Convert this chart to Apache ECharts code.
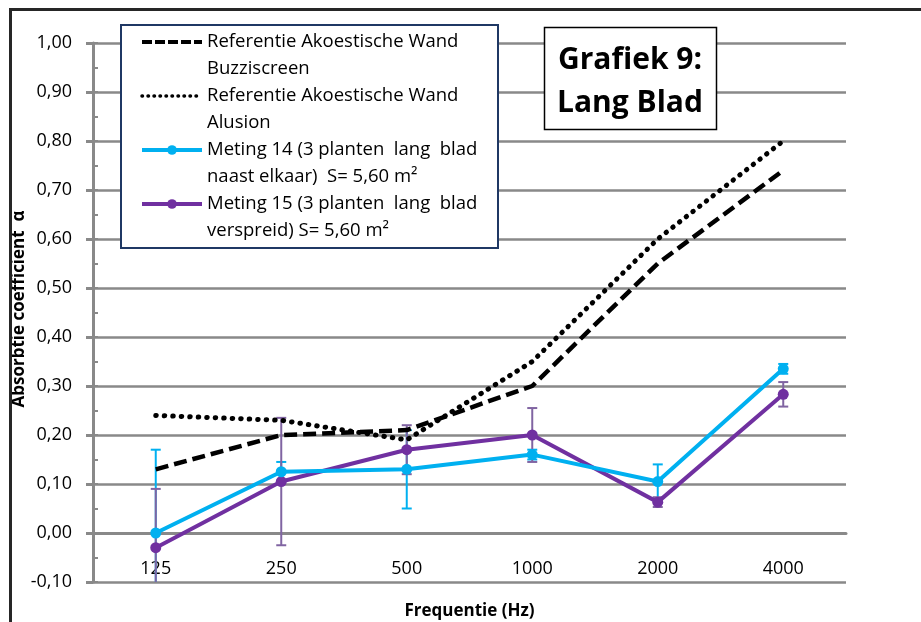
<!DOCTYPE html>
<html>
<head>
<meta charset="utf-8">
<script src="https://cdn.jsdelivr.net/npm/echarts@6/dist/echarts.min.js"></script>
<style>html,body{margin:0;padding:0;background:#fff;}#c{width:921px;height:622px;}</style>
</head>
<body>
<div id="c"></div>
<script>
const categories = ['125', '250', '500', '1000', '2000', '4000'];
const seriesNames = [
  'Referentie Akoestische Wand\nBuzziscreen',
  'Referentie Akoestische Wand\nAlusion',
  'Meting 14 (3 planten  lang  blad\nnaast elkaar)  S= 5,60 m²',
  'Meting 15 (3 planten  lang  blad\nverspreid) S= 5,60 m²'
];
const buzziscreen = [0.13, 0.20, 0.21, 0.30, 0.55, 0.74];
const alusion = [0.24, 0.23, 0.19, 0.35, 0.60, 0.80];
const meting14 = [0.00, 0.125, 0.13, 0.16, 0.105, 0.335];
const meting14Err = [0.17, 0.02, 0.08, 0.01, 0.035, 0.01];
const meting15 = [-0.03, 0.105, 0.17, 0.20, 0.063, 0.283];
const meting15Err = [0.12, 0.13, 0.05, 0.055, 0.01, 0.025];
const yMin = -0.1, yMax = 1.0, yStep = 0.1;
const titleText = 'Grafiek 9:\nLang Blad';
const yTitle = 'Absorbtie coefficient  α';
const xTitle = 'Frequentie (Hz)';

const FONT = '"Open Sans"';
const GRID = '#898989';

function errData(vals, errs) {
  return vals.map((v, i) => [i, v - errs[i], v + errs[i]]);
}
function errRender(color) {
  return function (params, api) {
    const lo = api.coord([api.value(0), api.value(1)]);
    const hi = api.coord([api.value(0), api.value(2)]);
    const w = 5;
    const st = { stroke: color, lineWidth: 2 };
    return {
      type: 'group',
      children: [
        { type: 'line', shape: { x1: lo[0], y1: lo[1], x2: hi[0], y2: hi[1] }, style: st },
        { type: 'line', shape: { x1: lo[0] - w, y1: lo[1], x2: lo[0] + w, y2: lo[1] }, style: st },
        { type: 'line', shape: { x1: hi[0] - w, y1: hi[1], x2: hi[0] + w, y2: hi[1] }, style: st }
      ]
    };
  };
}

const chart = echarts.init(document.getElementById('c'), null, { renderer: 'canvas' });
chart.setOption({
  animation: false,
  backgroundColor: '#fff',
  textStyle: { fontFamily: FONT },
  graphic: [
    { type: 'rect', z: 3, shape: { x: 121, y: 25, width: 377, height: 223 },
      style: { fill: '#fff', stroke: '#1f3864', lineWidth: 2 } },
    { type: 'rect', z: 6, shape: { x: 544.5, y: 27.5, width: 172, height: 102 },
      style: { fill: '#fff', stroke: '#000', lineWidth: 1.5 } },
    { type: 'text', z: 7, x: 630, y: 82,
      style: { text: titleText, font: 'bold 30px ' + FONT, lineHeight: 43, fill: '#000', align: 'center', verticalAlign: 'middle' } },
    { type: 'text', z: 5, x: 19, y: 309, rotation: Math.PI / 2,
      style: { text: yTitle, font: 'bold 17px ' + FONT, fill: '#000', align: 'center', verticalAlign: 'middle' } },
    { type: 'rect', z: 10, shape: { x: 10.5, y: 9.5, width: 2000, height: 2000 },
      style: { fill: 'none', stroke: '#262626', lineWidth: 3 } }
  ],
  legend: {
    orient: 'vertical',
    left: 140, top: 1.5,
    padding: 0,
    itemGap: -27,
    itemWidth: 60, itemHeight: 12,
    z: 4,
    data: [
      { name: seriesNames[0], itemStyle: { color: 'rgba(0,0,0,0)' },
        lineStyle: { width: 4, type: [10, 3] } },
      { name: seriesNames[1], itemStyle: { color: 'rgba(0,0,0,0)' },
        lineStyle: { width: 3.5, type: [0.5, 5.5], cap: 'round' } },
      { name: seriesNames[2], lineStyle: { width: 4 } },
      { name: seriesNames[3], lineStyle: { width: 4 } }
    ],
    formatter: name => '\n' + name,
    textStyle: { fontFamily: FONT, fontSize: 18.5, color: '#000', lineHeight: 27 }
  },
  grid: { left: 93, right: 75, top: 43, bottom: 40, containLabel: false, outerBoundsMode: 'none' },
  xAxis: {
    type: 'category',
    data: categories,
    boundaryGap: true,
    axisLine: { lineStyle: { color: GRID, width: 3 } },
    axisTick: { show: false },
    axisLabel: { inside: true, margin: 4, fontSize: 18, lineHeight: 18, color: '#000', fontFamily: FONT },
    name: xTitle,
    nameLocation: 'middle',
    nameGap: 21,
    nameTextStyle: { fontFamily: FONT, fontSize: 17, fontWeight: 'bold', color: '#000' }
  },
  yAxis: [
    {
      type: 'value',
      min: yMin, max: yMax, interval: yStep,
      axisLine: { show: true, lineStyle: { color: GRID, width: 3 } },
      axisTick: { show: true, length: 7, lineStyle: { color: GRID, width: 3 } },
      axisLabel: { margin: 21, fontSize: 18, color: '#000', fontFamily: FONT,
        formatter: v => (Math.round(v * 100) / 100).toFixed(2).replace('.', ',') },
      splitLine: { show: true, lineStyle: { color: GRID, width: 2.5 } }
    },
    {
      type: 'value',
      min: yMin, max: yMax, interval: yStep / 2,
      position: 'left',
      axisLine: { show: false },
      axisTick: { show: true, inside: true, length: 5, lineStyle: { color: GRID, width: 2 } },
      axisLabel: { show: false },
      splitLine: { show: false }
    }
  ],
  series: [
    { type: 'custom', name: 'err14', clip: true, z: 1, renderItem: errRender('#00b0f0'),
      data: errData(meting14, meting14Err), encode: { x: 0, y: [1, 2] } },
    { type: 'custom', name: 'err15', clip: true, z: 1, renderItem: errRender('#8064a2'),
      data: errData(meting15, meting15Err), encode: { x: 0, y: [1, 2] } },
    { type: 'line', name: seriesNames[0], data: buzziscreen, symbol: 'none', z: 3,
      lineStyle: { color: '#000', width: 4.5, type: [13, 6] }, itemStyle: { color: '#000' } },
    { type: 'line', name: seriesNames[1], data: alusion, symbol: 'none', z: 3,
      lineStyle: { color: '#000', width: 5, type: [0.5, 8], cap: 'round' }, itemStyle: { color: '#000' } },
    { type: 'line', name: seriesNames[3], data: meting15, symbol: 'circle', symbolSize: 11, z: 2,
      lineStyle: { color: '#7030a0', width: 4 }, itemStyle: { color: '#7030a0' } },
    { type: 'line', name: seriesNames[2], data: meting14, symbol: 'circle', symbolSize: 11, z: 2,
      lineStyle: { color: '#00b0f0', width: 4 }, itemStyle: { color: '#00b0f0' } }
  ]
});
</script>
</body>
</html>
